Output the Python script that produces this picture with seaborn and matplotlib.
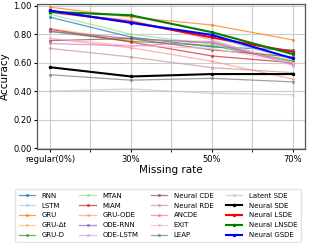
import numpy as np
import pandas as pd
import seaborn as sns
import matplotlib.pyplot as plt
from matplotlib.ticker import MultipleLocator

missing_rates = ["regular(0%)", "30%", "50%", "70%"]

rnn = [0.92, 0.78, 0.71, 0.69]
lstm = [0.95, 0.89, 0.78, 0.62]
gru = [0.99, 0.92, 0.865, 0.76]
gru_dt = [0.84, 0.76, 0.75, 0.61]
gru_d = [0.82, 0.75, 0.72, 0.61]
mtan = [0.94, 0.80, 0.73, 0.60]
miam = [0.835, 0.745, 0.647, 0.60]
gru_ode = [0.77, 0.705, 0.61, 0.485]
ode_rnn = [0.82, 0.77, 0.74, 0.59]
ode_lstm = [0.95, 0.90, 0.76, 0.58]
neural_cde = [0.755, 0.77, 0.69, 0.64]
neural_rde = [0.70, 0.64, 0.565, 0.53]
ancde = [0.735, 0.717, 0.747, 0.59]
exit_ = [0.77, 0.72, 0.70, 0.60]
leap = [0.515, 0.477, 0.49, 0.465]
latent_sde = [0.40, 0.415, 0.385, 0.375]
neural_sde = [0.568, 0.503, 0.52, 0.52]
neural_lsde = [0.96, 0.886, 0.777, 0.677]
neural_lnsde = [0.958, 0.933, 0.814, 0.66]
neural_gsde = [0.967, 0.88, 0.795, 0.63]

baselines = {
    "RNN": rnn, "LSTM": lstm, "GRU": gru, "GRU-Δt": gru_dt, "GRU-D": gru_d,
    "MTAN": mtan, "MIAM": miam, "GRU-ODE": gru_ode, "ODE-RNN": ode_rnn,
    "ODE-LSTM": ode_lstm, "Neural CDE": neural_cde, "Neural RDE": neural_rde,
    "ANCDE": ancde, "EXIT": exit_, "LEAP": leap, "Latent SDE": latent_sde,
}
proposed = {
    "Neural SDE": neural_sde, "Neural LSDE": neural_lsde,
    "Neural LNSDE": neural_lnsde, "Neural GSDE": neural_gsde,
}
proposed_colors = ["black", "red", "green", "blue"]

rows = []
for name, vals in {**baselines, **proposed}.items():
    for i, v in enumerate(vals):
        rows.append({"model": name, "pos": i, "acc": v})
df = pd.DataFrame(rows)

plt.rcParams["font.family"] = ["DejaVu Sans"]
fig = plt.figure(figsize=(3.09, 2.43), dpi=100)
ax = fig.add_axes([0.12, 0.385, 0.867, 0.60])

tab20 = sns.color_palette("tab20", 16)
for (name, _), color in zip(baselines.items(), tab20):
    sub = df[df["model"] == name]
    sns.lineplot(data=sub, x="pos", y="acc", ax=ax, color=color, marker=".",
                 markersize=4.5, markeredgewidth=0, linewidth=0.9, alpha=0.75, label=name)
for (name, _), color in zip(proposed.items(), proposed_colors):
    sub = df[df["model"] == name]
    sns.lineplot(data=sub, x="pos", y="acc", ax=ax, color=color, marker=".",
                 markersize=5, markeredgewidth=0, linewidth=1.5, label=name)

ax.set_xticks(range(4))
ax.set_xticklabels(missing_rates, fontsize=6)
ax.xaxis.set_minor_locator(MultipleLocator(0.5))
ax.set_xlim(-0.16, 3.15)
ax.set_ylim(-0.01, 1.015)
ax.set_yticks(np.arange(0, 1.01, 0.2))
ax.set_yticklabels([f"{t:.2f}" for t in np.arange(0, 1.01, 0.2)], fontsize=6)
ax.tick_params(axis="both", length=2.5, pad=1.5)
ax.tick_params(axis="x", which="minor", length=2.5)
ax.grid(True, which="both", color="#cccccc", linewidth=0.8)
ax.set_axisbelow(True)
for s in ax.spines.values():
    s.set_color("#555555")
    s.set_linewidth(0.9)
ax.set_xlabel("Missing rate", fontsize=7.5, labelpad=1)
ax.set_ylabel("Accuracy", fontsize=7.5, labelpad=2)

ax.legend(loc="upper center", bbox_to_anchor=(0.451, -0.25), ncol=4, fontsize=5,
          handlelength=2.4, columnspacing=1.8, labelspacing=0.55, borderpad=0.5,
          handletextpad=0.9, frameon=True, edgecolor="#dddddd", fancybox=True)

fig.savefig("out.png", dpi=100)
